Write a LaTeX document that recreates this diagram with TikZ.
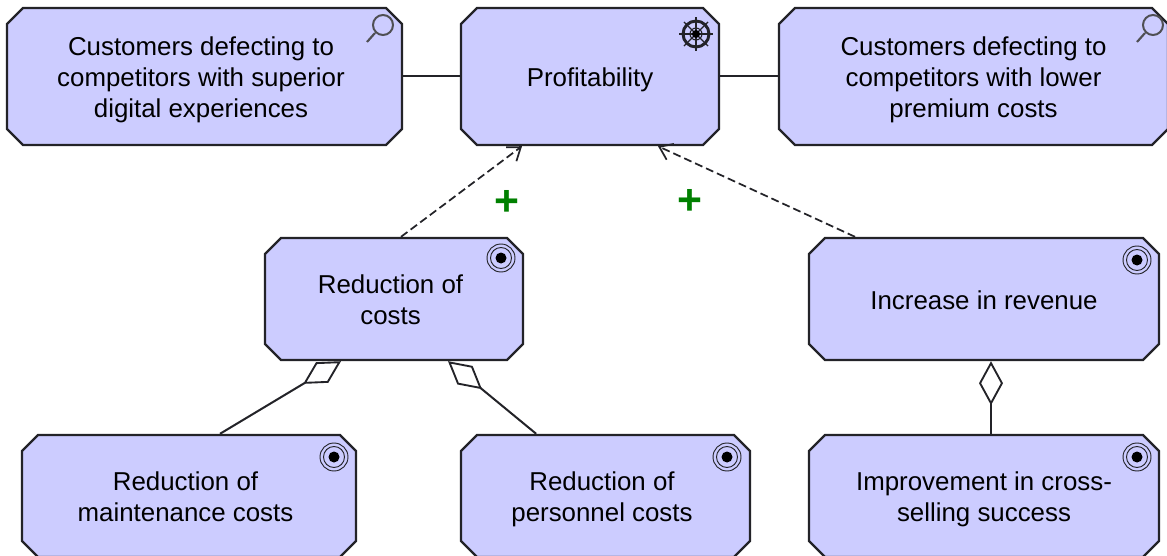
\documentclass[tikz,border=0pt]{standalone}
\usepackage{fontspec}
\setmainfont{Liberation Sans}
\usetikzlibrary{shapes.misc,arrows.meta}
\definecolor{boxblue}{RGB}{204,204,255}
\definecolor{boxline}{RGB}{35,35,40}
\definecolor{plusgreen}{RGB}{0,128,0}
\newcommand{\nudge}{\kern5.25pt}
\newcommand{\lift}{\rule{0pt}{19.5pt}}
\tikzset{
    box/.style 2 args={chamfered rectangle, chamfered rectangle xsep=6pt, chamfered rectangle ysep=6pt,
        draw=boxline, fill=boxblue, line width=1.8pt, inner sep=0pt, align=center,
        minimum width=#1*0.75pt, minimum height=#2*0.75pt,
        font=\fontsize{19.4}{23.4}\selectfont,
        execute at end node={\rule[-4.2pt]{0pt}{4.2pt}}},
    plain/.style={draw=boxline, line width=1.5pt},
    influence/.style={draw=boxline, line width=1.3pt, dash pattern=on 6pt off 3pt, -{Straight Barb[length=9pt,width=13pt,line width=1.3pt]}},
    aggregate/.style={draw=boxline, line width=1.5pt, -{Diamond[open,length=33pt,width=18pt,line width=1.4pt]}},
    plus/.style={text=plusgreen, inner sep=0pt, font=\fontsize{32}{32}\bfseries\selectfont},
    pics/target/.style={code={
        \draw[boxline, line width=0.7pt] (0,0) circle (14);
        \draw[boxline, line width=0.7pt] (0,0) circle (10.5);
        \fill[black] (0,0) circle (5.5);
    }},
    pics/lens/.style={code={
        \draw[boxline!80, line width=1.5pt] (0,0) circle (10);
        \draw[boxline!80, line width=1.6pt] (-8,8) -- (-16,17);
    }},
    pics/wheel/.style={code={
        \foreach \a in {0,45,...,315} {
            \draw[boxline, line width=1pt] (0,0) -- (\a:17);
        }
        \draw[boxline, line width=2.2pt] (0,0) circle (13);
        \draw[boxline, line width=0.8pt] (0,0) circle (6);
        \fill[black] (0,0) circle (4);
    }}
}
\begin{document}
\begin{tikzpicture}[x=0.75pt,y=-0.75pt]
    \useasboundingbox (0,0) rectangle (1167,556);

    \node[box={395}{137}] (defectdigital) at (204.5,76.5) {\lift Customers defecting to\nudge\\competitors with superior\nudge\\digital experiences\nudge};
    \node[box={258}{137}] (profit) at (590,76.5) {\lift Profitability};
    \node[box={389}{137}] (defectprice) at (973.5,76.5) {\lift Customers defecting to\\competitors with lower\\premium costs};

    \node[box={258}{122}] (costs) at (394,299) {\lift Reduction of\nudge\\costs\nudge};
    \node[box={350}{122}] (revenue) at (984,299) {\lift Increase in revenue};

    \node[box={334}{122}] (maintenance) at (189,496) {\lift Reduction of\nudge\\maintenance costs\nudge};
    \node[box={289}{122}] (personnel) at (605.5,496) {\lift Reduction of\nudge\\personnel costs\nudge};
    \node[box={350}{122}] (crossselling) at (984,496) {\lift Improvement in cross-\\selling success};

    % icons
    \pic at (383,25) {lens};
    \pic at (1153,25) {lens};
    \pic at (696,34) {wheel};
    \pic at (501,258) {target};
    \pic at (1137,260) {target};
    \pic at (334,457) {target};
    \pic at (727,457) {target};
    \pic at (1137,457) {target};

    % connectors
    \draw[plain] (defectdigital.east) -- (profit.west);
    \draw[plain] (profit.east) -- (defectprice.west);
    \draw[influence] ([xshift=5.25pt]costs.north) -- ([xshift=-51pt]profit.south);
    \draw[influence] ([xshift=-96.75pt]revenue.north) -- ([xshift=51pt]profit.south);
    \draw[aggregate] ([xshift=23.25pt]maintenance.north) -- ([xshift=-39.75pt]costs.south);
    \draw[aggregate] ([xshift=-52pt]personnel.north) -- ([xshift=40.5pt]costs.south);
    \draw[aggregate] ([xshift=5.25pt]crossselling.north) -- ([xshift=5.25pt]revenue.south);

    \node[plus] (plusleft) at (507,203) {+};
    \node[plus] (plusright) at (690,202) {+};
\end{tikzpicture}
\end{document}
